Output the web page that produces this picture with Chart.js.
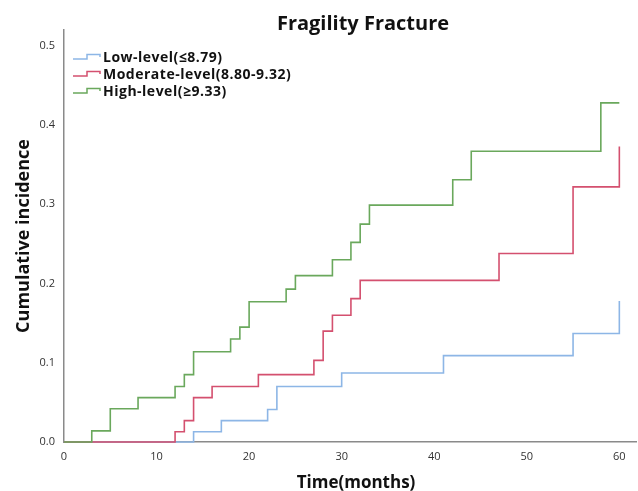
<!DOCTYPE html>
<html>
<head>
<meta charset="utf-8">
<script src="https://cdn.jsdelivr.net/npm/chart.js@4.4.1/dist/chart.umd.min.js"></script>
<style>
  html, body { margin: 0; padding: 0; background: #fff; }
  #wrap { width: 638px; height: 491px; }
</style>
</head>
<body>
<div id="wrap"><canvas id="kmChart" width="638" height="491"></canvas></div>
<script>
// step times (months) and cumulative incidence after each event
const lowTimes = [0, 14, 17, 22, 23, 30, 41, 55, 60];
const lowValues = [0, 0.013, 0.027, 0.041, 0.070, 0.087, 0.109, 0.137, 0.178];

const modTimes = [0, 12, 13, 14, 16, 21, 27, 28, 29, 31, 32, 47, 55, 60];
const modValues = [0, 0.013, 0.027, 0.056, 0.070, 0.085, 0.103, 0.140, 0.160, 0.181, 0.204, 0.238, 0.322, 0.373];

const highTimes = [0, 3, 5, 8, 12, 13, 14, 18, 19, 20, 24, 25, 29, 31, 32, 33, 42, 44, 58, 60];
const highValues = [0, 0.014, 0.042, 0.056, 0.070, 0.085, 0.114, 0.130, 0.145, 0.177, 0.193, 0.210, 0.230, 0.252, 0.275, 0.299, 0.331, 0.367, 0.428, 0.428];

const seriesLabels = ['Low-level(\u22648.79)', 'Moderate-level(8.80-9.32)', 'High-level(\u22659.33)'];
const seriesColors = ['#8db6e6', '#d4506f', '#6aa85c'];

const xTicks = [0, 10, 20, 30, 40, 50, 60];
const yTicks = [0, 0.1, 0.2, 0.3, 0.4, 0.5];

const chartTitle = 'Fragility Fracture';
const xTitle = 'Time(months)';
const yTitle = 'Cumulative incidence';

const FONT = "'Open Sans', 'DejaVu Sans', sans-serif";

function toPoints(ts, vs) {
    return ts.map((t, i) => ({x: t, y: vs[i]}));
}

// title, x title and the in-plot legend (little step icons like SPSS)
const spssDecor = {
    id: 'spssDecor',
    afterDraw(chart) {
        const ctx = chart.ctx;
        ctx.save();
        ctx.fillStyle = '#111';
        ctx.textAlign = 'center';
        ctx.textBaseline = 'alphabetic';
        ctx.font = "bold 20px " + FONT;
        ctx.fillText(chartTitle, 363, 30);
        ctx.font = "bold 17px " + FONT;
        ctx.fillText(xTitle, 356, 488);

        ctx.textAlign = 'left';
        ctx.textBaseline = 'middle';
        ctx.font = "bold 14px " + FONT;
        ctx.letterSpacing = '0.5px';
        seriesLabels.forEach((lab, i) => {
            const y = 58 + i * 17;
            ctx.strokeStyle = seriesColors[i];
            ctx.lineWidth = 1.5;
            ctx.beginPath();
            ctx.moveTo(73, y + 1);
            ctx.lineTo(87, y + 1);
            ctx.lineTo(87, y - 3.5);
            ctx.lineTo(100, y - 3.5);
            ctx.lineTo(100, y - 1);
            ctx.stroke();
            ctx.fillText(lab, 103, y);
        });
        ctx.restore();
    }
};

const ctx = document.getElementById('kmChart').getContext('2d');
const myChart = new Chart(ctx, {
    type: 'line',
    data: {
        datasets: [
            {label: seriesLabels[0], data: toPoints(lowTimes, lowValues), borderColor: seriesColors[0], order: 3, clip: false},
            {label: seriesLabels[1], data: toPoints(modTimes, modValues), borderColor: seriesColors[1], order: 2, clip: false},
            {label: seriesLabels[2], data: toPoints(highTimes, highValues), borderColor: seriesColors[2], order: 1, clip: false}
        ]
    },
    options: {
        responsive: false,
        animation: false,
        parsing: false,
        layout: { padding: {left: 0, right: 2, top: 30, bottom: 0} },
        elements: {
            line: { stepped: 'before', borderWidth: 1.6, fill: false, tension: 0 },
            point: { radius: 0, hoverRadius: 0 }
        },
        plugins: {
            legend: { display: false },
            tooltip: { enabled: false },
            title: { display: false }
        },
        scales: {
            x: {
                type: 'linear',
                min: 0,
                max: 61.8,
                grid: { display: false, drawTicks: false },
                border: { display: true, color: '#8a8a8a', width: 1.5 },
                ticks: {
                    padding: 8,
                    color: '#333',
                    font: { family: FONT, size: 11 },
                    maxRotation: 0
                },
                afterBuildTicks: (scale) => {
                    scale.ticks = xTicks.map(v => ({value: v}));
                },
                afterFit: (scale) => { scale.height = 49; }
            },
            y: {
                type: 'linear',
                min: 0,
                max: 0.52,
                grid: { display: false, drawTicks: false },
                border: { display: true, color: '#8a8a8a', width: 1.5 },
                ticks: {
                    padding: 9,
                    color: '#333',
                    font: { family: FONT, size: 11 },
                    callback: (v) => Number(v).toFixed(1)
                },
                afterBuildTicks: (scale) => {
                    scale.ticks = yTicks.map(v => ({value: v}));
                },
                afterFit: (scale) => { scale.width = 64; },
                title: {
                    display: true,
                    text: yTitle,
                    color: '#111',
                    font: { family: FONT, size: 18, weight: 'bold', lineHeight: 1 },
                    padding: { top: 15, bottom: 0 }
                }
            }
        }
    },
    plugins: [spssDecor]
});
</script>
</body>
</html>
